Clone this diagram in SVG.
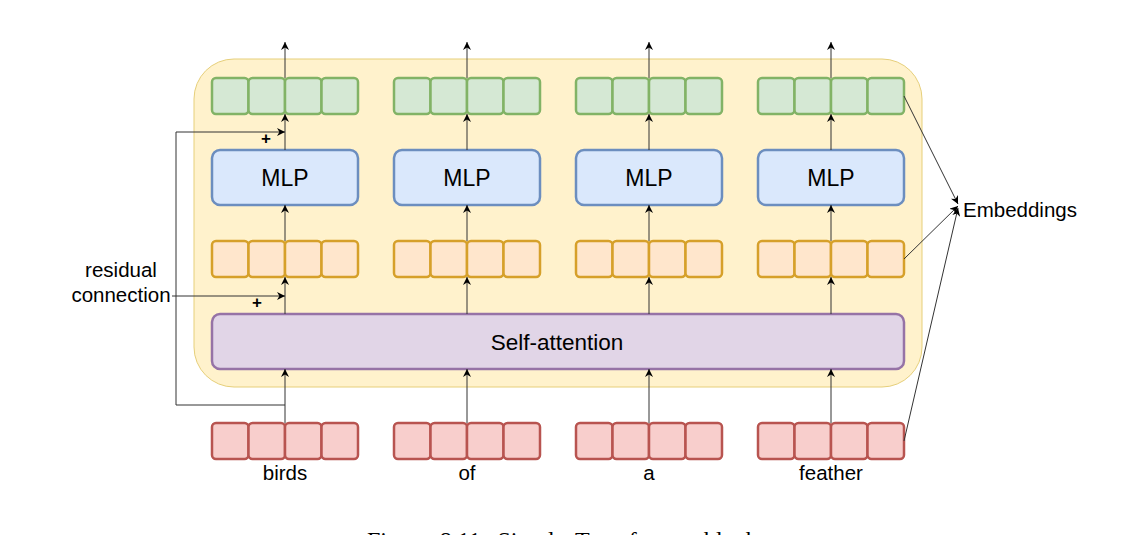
<svg xmlns="http://www.w3.org/2000/svg" width="1141" height="535" viewBox="0 0 1141 535">
<style>
.txt{font-family:"Liberation Sans",Arial,sans-serif;fill:#000}
.g{fill:#d5e8d4;stroke:#82b366;stroke-width:2.5}
.o{fill:#ffe6cc;stroke:#d6a02a;stroke-width:2.5}
.r{fill:#f8cecc;stroke:#b85450;stroke-width:2.5}
.mlp{fill:#dae8fc;stroke:#6c8ebf;stroke-width:2.5}
.sa{fill:#e1d5e7;stroke:#9673a6;stroke-width:2.5}
.c{fill:none;stroke:#333;stroke-width:1}
</style>
<defs>
<marker id="ah" viewBox="0 0 10 10" refX="10" refY="5" markerWidth="8" markerHeight="8" markerUnits="userSpaceOnUse" orient="auto">
<path d="M0,0 L10,5 L0,10 L3,5 z" fill="#000"/>
</marker>
<g id="vecG"><rect class="g" x="0" y="0" width="36.5" height="36" rx="4"/><rect class="g" x="36.5" y="0" width="36.5" height="36" rx="4"/><rect class="g" x="73" y="0" width="36.5" height="36" rx="4"/><rect class="g" x="109.5" y="0" width="36.5" height="36" rx="4"/></g>
<g id="vecO"><rect class="o" x="0" y="0" width="36.5" height="36" rx="4"/><rect class="o" x="36.5" y="0" width="36.5" height="36" rx="4"/><rect class="o" x="73" y="0" width="36.5" height="36" rx="4"/><rect class="o" x="109.5" y="0" width="36.5" height="36" rx="4"/></g>
<g id="vecR"><rect class="r" x="0" y="0" width="36.5" height="36" rx="4"/><rect class="r" x="36.5" y="0" width="36.5" height="36" rx="4"/><rect class="r" x="73" y="0" width="36.5" height="36" rx="4"/><rect class="r" x="109.5" y="0" width="36.5" height="36" rx="4"/></g>
</defs>
<rect width="1141" height="535" fill="#fff"/>
<g id="block"><rect x="194" y="59" width="728" height="328" rx="40" fill="#fff2cc" stroke="#e6cf7a" stroke-width="1"/></g>

<g id="out1"><use href="#vecG" x="212" y="78"/></g>
<g id="out2"><use href="#vecG" x="394" y="78"/></g>
<g id="out3"><use href="#vecG" x="576" y="78"/></g>
<g id="out4"><use href="#vecG" x="758" y="78"/></g>

<g id="mlp1"><rect class="mlp" x="212" y="150" width="146" height="55" rx="8"/><text class="txt" x="285" y="186" font-size="23" text-anchor="middle">MLP</text></g>
<g id="mlp2"><rect class="mlp" x="394" y="150" width="146" height="55" rx="8"/><text class="txt" x="467" y="186" font-size="23" text-anchor="middle">MLP</text></g>
<g id="mlp3"><rect class="mlp" x="576" y="150" width="146" height="55" rx="8"/><text class="txt" x="649" y="186" font-size="23" text-anchor="middle">MLP</text></g>
<g id="mlp4"><rect class="mlp" x="758" y="150" width="146" height="55" rx="8"/><text class="txt" x="831" y="186" font-size="23" text-anchor="middle">MLP</text></g>

<g id="mid1"><use href="#vecO" x="212" y="241"/></g>
<g id="mid2"><use href="#vecO" x="394" y="241"/></g>
<g id="mid3"><use href="#vecO" x="576" y="241"/></g>
<g id="mid4"><use href="#vecO" x="758" y="241"/></g>

<g id="selfattn"><rect class="sa" x="212" y="314" width="692" height="55" rx="8"/><text class="txt" x="557" y="350" font-size="22.5" text-anchor="middle">Self-attention</text></g>

<g id="in1"><use href="#vecR" x="212" y="423"/><text class="txt" x="285" y="480" font-size="20.5" text-anchor="middle">birds</text></g>
<g id="in2"><use href="#vecR" x="394" y="423"/><text class="txt" x="467" y="480" font-size="20.5" text-anchor="middle">of</text></g>
<g id="in3"><use href="#vecR" x="576" y="423"/><text class="txt" x="649" y="480" font-size="20.5" text-anchor="middle">a</text></g>
<g id="in4"><use href="#vecR" x="758" y="423"/><text class="txt" x="831" y="480" font-size="20.5" text-anchor="middle">feather</text></g>

<g id="embeddings"><text class="txt" x="963" y="217" font-size="20.5">Embeddings</text></g>
<g id="residual"><text class="txt" x="121" y="277" font-size="20.5" text-anchor="middle">residual</text><text class="txt" x="121" y="302" font-size="20.5" text-anchor="middle">connection</text></g>

<g id="connectors">
<g class="c">
<line x1="285" y1="423" x2="285" y2="369" marker-end="url(#ah)"/>
<line x1="467" y1="423" x2="467" y2="369" marker-end="url(#ah)"/>
<line x1="649" y1="423" x2="649" y2="369" marker-end="url(#ah)"/>
<line x1="831" y1="423" x2="831" y2="369" marker-end="url(#ah)"/>
<line x1="285" y1="314" x2="285" y2="277" marker-end="url(#ah)"/>
<line x1="467" y1="314" x2="467" y2="277" marker-end="url(#ah)"/>
<line x1="649" y1="314" x2="649" y2="277" marker-end="url(#ah)"/>
<line x1="831" y1="314" x2="831" y2="277" marker-end="url(#ah)"/>
<line x1="285" y1="241" x2="285" y2="205" marker-end="url(#ah)"/>
<line x1="467" y1="241" x2="467" y2="205" marker-end="url(#ah)"/>
<line x1="649" y1="241" x2="649" y2="205" marker-end="url(#ah)"/>
<line x1="831" y1="241" x2="831" y2="205" marker-end="url(#ah)"/>
<line x1="285" y1="150" x2="285" y2="114" marker-end="url(#ah)"/>
<line x1="467" y1="150" x2="467" y2="114" marker-end="url(#ah)"/>
<line x1="649" y1="150" x2="649" y2="114" marker-end="url(#ah)"/>
<line x1="831" y1="150" x2="831" y2="114" marker-end="url(#ah)"/>
<line x1="285" y1="78" x2="285" y2="42" marker-end="url(#ah)"/>
<line x1="467" y1="78" x2="467" y2="42" marker-end="url(#ah)"/>
<line x1="649" y1="78" x2="649" y2="42" marker-end="url(#ah)"/>
<line x1="831" y1="78" x2="831" y2="42" marker-end="url(#ah)"/>
<polyline points="285,405 176,405 176,132 285,132" marker-end="url(#ah)"/>
<line x1="172" y1="296" x2="285" y2="296" marker-end="url(#ah)"/>
<line x1="904" y1="96" x2="958" y2="204" marker-end="url(#ah)"/>
<line x1="904" y1="259" x2="958" y2="206" marker-end="url(#ah)"/>
<line x1="904" y1="441" x2="958" y2="208" marker-end="url(#ah)"/>
</g>
<text class="txt" x="266" y="144" font-size="17" font-weight="bold" text-anchor="middle">+</text>
<text class="txt" x="257" y="308" font-size="17" font-weight="bold" text-anchor="middle">+</text>
</g>

<text x="367" y="548" font-family="'Liberation Serif','Times New Roman',serif" font-size="24" word-spacing="4" fill="#000">Figure 8.11: Simple Transformer block</text>
</svg>
